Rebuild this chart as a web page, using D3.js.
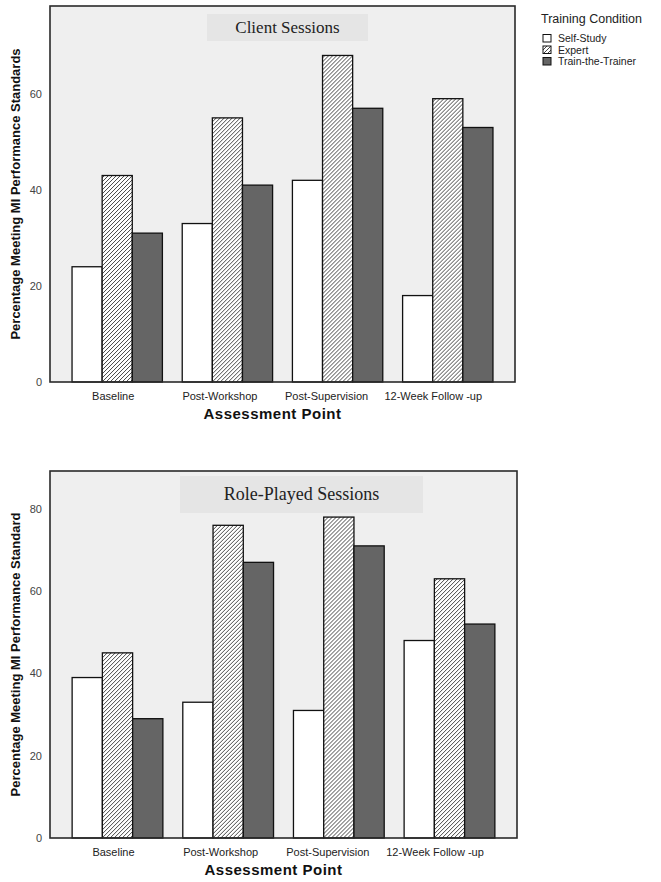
<!DOCTYPE html>
<html>
<head>
<meta charset="utf-8">
<script src="https://cdn.jsdelivr.net/npm/d3@7"></script>
<style>
  body { margin: 0; background: #fff; }
  text { font-family: "Liberation Sans", Arial, sans-serif; }
</style>
</head>
<body>
<div id="chart"></div>
<script>
// data
const categories = ["Baseline", "Post-Workshop", "Post-Supervision", "12-Week Follow -up"];
const conditions = ["Self-Study", "Expert", "Train-the-Trainer"];

const clientSelfStudy = [24, 33, 42, 18];
const clientExpert = [43, 55, 68, 59];
const clientTrainer = [31, 41, 57, 53];

const roleSelfStudy = [39, 33, 31, 48];
const roleExpert = [45, 76, 78, 63];
const roleTrainer = [29, 67, 71, 52];

const clientTicks = [0, 20, 40, 60];
const roleTicks = [0, 20, 40, 60, 80];

const width = 661, height = 882;

let svg = d3.select("#chart")
    .append("svg")
    .attr("width", width)
    .attr("height", height);

// hatch pattern for Expert bars
let defs = svg.append("defs");
defs.append("pattern")
    .attr("id", "hatch")
    .attr("patternUnits", "userSpaceOnUse")
    .attr("width", 4)
    .attr("height", 4)
    .call(p => {
        p.append("rect").attr("width", 4).attr("height", 4).attr("fill", "#fff");
        p.append("path")
            .attr("d", "M-1,1 l2,-2 M0,4 l4,-4 M3,5 l2,-2")
            .attr("stroke", "#333")
            .attr("stroke-width", 0.9);
    });

const fills = {"Self-Study": "#ffffff", "Expert": "url(#hatch)", "Train-the-Trainer": "#656565"};

function toRows(a, b, c) {
    return categories.map((cat, i) => ({
        cat: cat,
        values: [
            {key: conditions[0], value: a[i]},
            {key: conditions[1], value: b[i]},
            {key: conditions[2], value: c[i]}
        ]
    }));
}

function drawPanel(opts) {
    const {rows, left, right, top, bottom, yMax, ticks, title, titleBox, yLabel} = opts;

    let x = d3.scaleBand()
        .domain(categories)
        .range([left, right])
        .paddingInner(0.18)
        .paddingOuter(0.2);

    let xSub = d3.scaleBand()
        .domain(conditions)
        .range([0, x.bandwidth()]);

    let y = d3.scaleLinear()
        .domain([0, yMax])
        .range([bottom, top]);

    let g = svg.append("g");

    // plot background
    g.append("rect")
        .attr("x", left).attr("y", top)
        .attr("width", right - left).attr("height", bottom - top)
        .attr("fill", "#efefef");

    // title box
    g.append("rect")
        .attr("x", titleBox.x).attr("y", titleBox.y)
        .attr("width", titleBox.w).attr("height", titleBox.h)
        .attr("fill", "#e5e5e5");
    g.append("text")
        .attr("x", titleBox.x + titleBox.w / 2)
        .attr("y", titleBox.y + titleBox.h / 2 + titleBox.size * 0.33)
        .attr("text-anchor", "middle")
        .style("font-family", "'Liberation Serif', 'Times New Roman', serif")
        .style("font-size", titleBox.size + "px")
        .attr("fill", "#222")
        .text(title);

    // bars
    let groups = g.selectAll(".grp")
        .data(rows)
        .enter()
        .append("g")
        .attr("transform", d => `translate(${x(d.cat)}, 0)`);

    groups.selectAll("rect")
        .data(d => d.values)
        .enter()
        .append("rect")
        .attr("x", d => xSub(d.key))
        .attr("y", d => y(d.value))
        .attr("width", xSub.bandwidth())
        .attr("height", d => y(0) - y(d.value))
        .attr("fill", d => fills[d.key])
        .attr("stroke", "#111")
        .attr("stroke-width", 1.3);

    // frame
    g.append("rect")
        .attr("x", left).attr("y", top)
        .attr("width", right - left).attr("height", bottom - top)
        .attr("fill", "none")
        .attr("stroke", "#2a2a2a")
        .attr("stroke-width", 1.6);

    // y axis
    let yAxis = g.append("g")
        .attr("transform", `translate(${left}, 0)`)
        .call(d3.axisLeft(y).tickValues(ticks).tickSize(0).tickPadding(8));
    yAxis.select(".domain").remove();
    yAxis.selectAll("text")
        .style("font-size", "11px")
        .attr("fill", "#444");

    // x axis labels
    let xAxis = g.append("g")
        .attr("transform", `translate(0, ${bottom})`)
        .call(d3.axisBottom(x).tickSize(0).tickPadding(10));
    xAxis.select(".domain").remove();
    xAxis.selectAll("text")
        .style("font-size", "11px")
        .attr("fill", "#222")
        .attr("dx", (d, i) => -4 - 3.5 * i);

    g.append("text")
        .attr("x", (left + right) / 2 - 10)
        .attr("y", bottom + 37)
        .attr("text-anchor", "middle")
        .style("font-size", "15px")
        .style("font-weight", "bold")
        .style("letter-spacing", "0.5px")
        .attr("fill", "#111")
        .text("Assessment Point");

    g.append("text")
        .attr("transform", `translate(19.5, ${(top + bottom) / 2}) rotate(-90)`)
        .attr("text-anchor", "middle")
        .style("font-size", "13px")
        .style("font-weight", "bold")
        .attr("fill", "#111")
        .text(yLabel);
}

drawPanel({
    rows: toRows(clientSelfStudy, clientExpert, clientTrainer),
    left: 50, right: 515, top: 6, bottom: 382,
    yMax: 78.3, ticks: clientTicks,
    title: "Client Sessions",
    titleBox: {x: 207, y: 14, w: 161, h: 27, size: 17},
    yLabel: "Percentage Meeting MI Performance Standards"
});

drawPanel({
    rows: toRows(roleSelfStudy, roleExpert, roleTrainer),
    left: 50, right: 517, top: 471, bottom: 838,
    yMax: 89.2, ticks: roleTicks,
    title: "Role-Played Sessions",
    titleBox: {x: 180, y: 476, w: 243, h: 37, size: 18},
    yLabel: "Percentage Meeting MI Performance Standard"
});

// legend
let legend = svg.append("g");
legend.append("text")
    .attr("x", 541)
    .attr("y", 23)
    .style("font-size", "12.5px")
    .attr("fill", "#222")
    .text("Training Condition");

let items = legend.selectAll(".item")
    .data(conditions)
    .enter()
    .append("g")
    .attr("transform", (d, i) => `translate(543, ${34.5 + i * 11.5})`);

items.append("rect")
    .attr("width", 8)
    .attr("height", 7.5)
    .attr("fill", d => fills[d])
    .attr("stroke", "#111")
    .attr("stroke-width", 1);

items.append("text")
    .attr("x", 15)
    .attr("y", 7.5)
    .style("font-size", "10.5px")
    .attr("fill", "#222")
    .text(d => d);
</script>
</body>
</html>
